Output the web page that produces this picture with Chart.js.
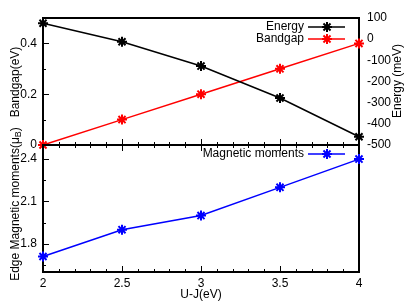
<!DOCTYPE html>
<html>
<head>
<meta charset="utf-8">
<script src="https://cdn.jsdelivr.net/npm/chart.js@4.4.0/dist/chart.umd.min.js"></script>
<style>
  body { margin: 0; background: #fff; }
  #wrap { position: relative; width: 409px; height: 305px; }
  #wrap canvas { position: absolute; left: 0; top: 0; }
</style>
</head>
<body>
<div id="wrap">
  <canvas id="top-chart" width="409" height="305"></canvas>
  <canvas id="bottom-chart" width="409" height="305"></canvas>
</div>
<script>
// values
var uj = [2, 2.5, 3, 3.5, 4];
var bandgap = [0, 0.1, 0.2, 0.3, 0.4];
var energy = [75, -12, -127, -278, -461];
var moments = [1.71, 1.90, 2.00, 2.20, 2.40];

// tick labels and minor tick positions
var xTicks = [2, 2.5, 3, 3.5, 4];
var xMinor = [2.1, 2.2, 2.3, 2.4, 2.6, 2.7, 2.8, 2.9, 3.1, 3.2, 3.3, 3.4, 3.6, 3.7, 3.8, 3.9];
var gapTicks = [0, 0.2, 0.4];
var gapMinor = [0.1, 0.3];
var energyTicks = [100, 0, -100, -200, -300, -400, -500];
var momentTicks = [1.8, 2.1, 2.4];
var momentMinor = [1.65, 1.95, 2.25];

var FONT = { family: "'Liberation Sans', Arial, sans-serif", size: 12 };
var FONT_CSS = "12px 'Liberation Sans', Arial, sans-serif";

function fixTicks(list) {
    return function(scale) {
        scale.ticks = list.map(function(v) { return { value: v }; });
    };
}

// gnuplot-like frame with inward ticks
var frame = {
    id: 'frame',
    beforeDatasetsDraw: function(chart, args, opts) {
        var ctx = chart.ctx, a = chart.chartArea, s = chart.scales;
        ctx.save();
        ctx.strokeStyle = '#000';
        ctx.lineWidth = 1;
        ctx.beginPath();
        function xTick(v, len) {
            var px = Math.round(s.x.getPixelForValue(v)) + 0.5;
            ctx.moveTo(px, a.bottom); ctx.lineTo(px, a.bottom - len);
            if (opts.xTop) { ctx.moveTo(px, a.top); ctx.lineTo(px, a.top + len); }
        }
        function yTick(v, len) {
            var py = Math.round(s.y.getPixelForValue(v)) + 0.5;
            ctx.moveTo(a.left, py); ctx.lineTo(a.left + len, py);
        }
        xTicks.forEach(function(v) { xTick(v, 6); });
        xMinor.forEach(function(v) { xTick(v, 3); });
        opts.yMajor.forEach(function(v) { yTick(v, 6); });
        opts.yMinor.forEach(function(v) { yTick(v, 3); });
        ctx.stroke();
        ctx.lineWidth = 2;
        ctx.strokeRect(a.left, a.top, a.right - a.left, a.bottom - a.top);
        ctx.restore();
    }
};

// legend inside the plot: text, then line sample with marker
var keyBox = {
    id: 'keyBox',
    afterDatasetsDraw: function(chart) {
        var ctx = chart.ctx, a = chart.chartArea;
        ctx.save();
        ctx.font = FONT_CSS;
        ctx.textAlign = 'right';
        ctx.textBaseline = 'middle';
        chart.data.datasets.forEach(function(ds, i) {
            var y = a.top + 9 + i * 12;
            ctx.fillStyle = '#000';
            ctx.fillText(ds.label, a.right - 55, y);
            ctx.strokeStyle = ds.borderColor;
            ctx.fillStyle = ds.borderColor;
            ctx.lineWidth = 1.5;
            ctx.beginPath();
            ctx.moveTo(a.right - 51, y);
            ctx.lineTo(a.right - 14, y);
            ctx.stroke();
            ctx.lineWidth = 2;
            Chart.helpers.drawPoint(ctx, { pointStyle: 'star', radius: 5, rotation: 0, borderWidth: 2 }, a.right - 32, y);
        });
        ctx.restore();
    }
};

// axis titles (rotated, one with a subscript)
var titles = {
    id: 'titles',
    afterDraw: function(chart, args, opts) {
        var ctx = chart.ctx, a = chart.chartArea;
        ctx.save();
        ctx.fillStyle = '#000';
        ctx.font = FONT_CSS;
        ctx.textBaseline = 'middle';
        opts.items.forEach(function(t) {
            ctx.save();
            ctx.translate(t.x, t.y);
            if (t.rotate) ctx.rotate(-Math.PI / 2);
            var main = ctx.measureText(t.text).width;
            var sub = 0, tail = 0;
            if (t.sub) {
                ctx.font = "9px 'Liberation Sans', Arial, sans-serif";
                sub = ctx.measureText(t.sub).width;
                ctx.font = FONT_CSS;
                tail = ctx.measureText(t.after).width;
            }
            var x0 = -(main + sub + tail) / 2;
            ctx.textAlign = 'left';
            ctx.fillText(t.text, x0, 0);
            if (t.sub) {
                ctx.font = "9px 'Liberation Sans', Arial, sans-serif";
                ctx.fillText(t.sub, x0 + main, 3);
                ctx.font = FONT_CSS;
                ctx.fillText(t.after, x0 + main + sub, 0);
            }
            ctx.restore();
        });
        ctx.restore();
    }
};

var lineStyle = {
    borderWidth: 1.5,
    pointStyle: 'star',
    pointRadius: 5,
    pointBorderWidth: 2,
    fill: false,
    tension: 0,
    clip: false
};

function pts(ys) {
    return uj.map(function(x, i) { return { x: x, y: ys[i] }; });
}

var topChart = new Chart(document.getElementById('top-chart'), {
    type: 'line',
    data: {
        datasets: [
            Object.assign({ label: 'Energy', data: pts(energy), borderColor: '#000', backgroundColor: '#000', yAxisID: 'y2' }, lineStyle),
            Object.assign({ label: 'Bandgap', data: pts(bandgap), borderColor: '#ff0000', backgroundColor: '#ff0000', yAxisID: 'y' }, lineStyle)
        ]
    },
    options: {
        responsive: false,
        animation: false,
        layout: { padding: { top: 18, bottom: 160, left: 0, right: 0 } },
        scales: {
            x: { type: 'linear', min: 2, max: 4, display: false },
            y: {
                position: 'left', min: 0, max: 0.5,
                afterFit: function(s) { s.width = 43; },
                afterBuildTicks: fixTicks(gapTicks),
                grid: { display: false, drawTicks: false },
                border: { display: false },
                ticks: { color: '#000', font: FONT, padding: 6, callback: function(v) { return String(v); } }
            },
            y2: {
                position: 'right', min: -500, max: 100,
                afterFit: function(s) { s.width = 50; },
                afterBuildTicks: fixTicks(energyTicks),
                grid: { display: false, drawTicks: false },
                border: { display: false },
                ticks: { color: '#000', font: FONT, padding: 8, callback: function(v) { return String(v); } }
            }
        },
        plugins: {
            legend: { display: false },
            tooltip: { enabled: false },
            frame: { yMajor: [0, 0.2, 0.4], yMinor: gapMinor, xTop: false },
            titles: { items: [
                { text: 'Bandgap(eV)', x: 16, y: 82, rotate: true },
                { text: 'Energy (meV)', x: 398, y: 81, rotate: true }
            ] }
        }
    },
    plugins: [frame, keyBox, titles]
});

var bottomChart = new Chart(document.getElementById('bottom-chart'), {
    type: 'line',
    data: {
        datasets: [
            Object.assign({ label: 'Magnetic moments', data: pts(moments), borderColor: '#0000ff', backgroundColor: '#0000ff' }, lineStyle)
        ]
    },
    options: {
        responsive: false,
        animation: false,
        layout: { padding: { top: 145, bottom: 0, left: 0, right: 50 } },
        scales: {
            x: {
                type: 'linear', min: 2, max: 4,
                afterFit: function(s) { s.height = 33; },
                afterBuildTicks: fixTicks(xTicks),
                grid: { display: false, drawTicks: false },
                border: { display: false },
                ticks: { color: '#000', font: FONT, padding: 4, maxRotation: 0, callback: function(v) { return String(v); } }
            },
            y: {
                position: 'left', min: 1.6, max: 2.5,
                afterFit: function(s) { s.width = 43; },
                afterBuildTicks: fixTicks(momentTicks),
                grid: { display: false, drawTicks: false },
                border: { display: false },
                ticks: { color: '#000', font: FONT, padding: 6, callback: function(v) { return String(v); } }
            }
        },
        plugins: {
            legend: { display: false },
            tooltip: { enabled: false },
            frame: { yMajor: momentTicks, yMinor: momentMinor, xTop: true },
            titles: { items: [
                { text: 'Edge Magnetic moments(\u03bc', sub: 'B', after: ')', x: 16, y: 204, rotate: true },
                { text: 'U-J(eV)', x: 201, y: 295, rotate: false }
            ] }
        }
    },
    plugins: [frame, keyBox, titles]
});
</script>
</body>
</html>
